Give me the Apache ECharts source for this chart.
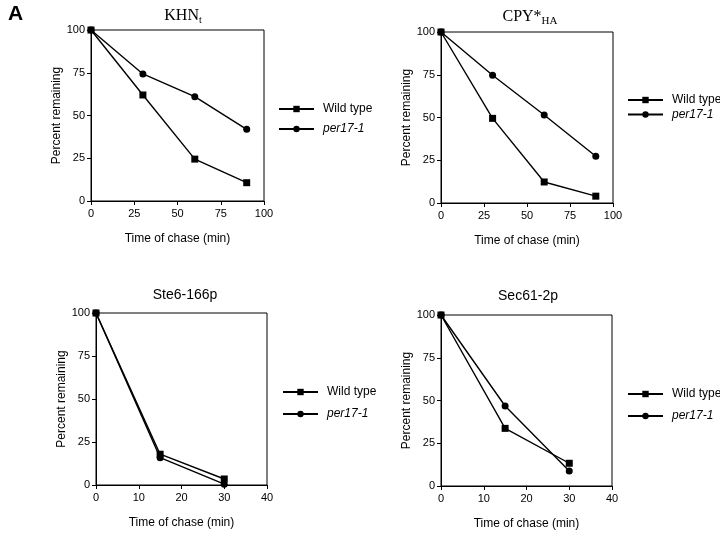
<!DOCTYPE html>
<html>
<head>
<meta charset="utf-8">
<script src="https://cdn.jsdelivr.net/npm/echarts@6/dist/echarts.min.js"></script>
<style>html,body{margin:0;padding:0;background:#fff;}#c{width:720px;height:534px;}</style>
</head>
<body>
<div id="c"></div>
<script>
// ---- data ----
const khnTime = [0, 30, 60, 90];
const khnWT = [100, 62, 24.5, 10.7];
const khnPer = [100, 74.3, 61, 41.9];
const cpyTime = [0, 30, 60, 90];
const cpyWT = [100, 49.5, 12.3, 4];
const cpyPer = [100, 74.7, 51.5, 27.3];
const steTime = [0, 15, 30];
const steWT = [100, 17.9, 3.5];
const stePer = [100, 15.9, 0.5];
const secTime = [0, 15, 30];
const secWT = [100, 33.7, 13.3];
const secPer = [100, 46.8, 8.8];
const seriesNames = ['Wild type', 'per17-1'];
const xTitle = 'Time of chase (min)';
const yTitle = 'Percent remaining';

const SANS = '"Liberation Sans", Arial, Helvetica, sans-serif';
const SERIF = '"Liberation Serif", "Times New Roman", serif';

const panels = [
  {grid: {left: 91, top: 30, width: 173, height: 171}, xMax: 100, xInt: 25, t: khnTime, wt: khnWT, per: khnPer,
   legend: {left: 278, top: 103, gap: 8}},
  {grid: {left: 441, top: 32, width: 172, height: 171}, xMax: 100, xInt: 25, t: cpyTime, wt: cpyWT, per: cpyPer,
   legend: {left: 627, top: 94, gap: 2.5}},
  {grid: {left: 96, top: 313, width: 171, height: 172}, xMax: 40, xInt: 10, t: steTime, wt: steWT, per: stePer,
   legend: {left: 282, top: 386, gap: 10}},
  {grid: {left: 441, top: 315, width: 171, height: 171}, xMax: 40, xInt: 10, t: secTime, wt: secWT, per: secPer,
   legend: {left: 627, top: 388, gap: 10}}
];

const grids = [], xAxes = [], yAxes = [], series = [], legends = [];
panels.forEach((p, i) => {
  grids.push(Object.assign({show: true, borderColor: '#000', borderWidth: 1, backgroundColor: 'transparent', containLabel: false}, p.grid));
  xAxes.push({
    type: 'value', gridIndex: i, min: 0, max: p.xMax, interval: p.xInt,
    name: xTitle, nameLocation: 'middle', nameGap: 32,
    nameTextStyle: {fontFamily: SANS, fontSize: 12, color: '#000'},
    axisLine: {show: true, onZero: false, lineStyle: {color: '#000', width: 1}},
    axisTick: {show: true, inside: false, length: 4, lineStyle: {color: '#000'}},
    axisLabel: {fontFamily: SANS, fontSize: 11, color: '#000', margin: 7},
    splitLine: {show: false}
  });
  yAxes.push({
    type: 'value', gridIndex: i, min: 0, max: 100, interval: 25,
    name: yTitle, nameLocation: 'middle', nameGap: 28, nameRotate: 90,
    nameTextStyle: {fontFamily: SANS, fontSize: 12, color: '#000'},
    axisLine: {show: true, onZero: false, lineStyle: {color: '#000', width: 1}},
    axisTick: {show: true, inside: false, length: 4, lineStyle: {color: '#000'}},
    axisLabel: {fontFamily: SANS, fontSize: 11, color: '#000', margin: 6},
    splitLine: {show: false}
  });
  series.push({
    name: seriesNames[0], type: 'line', xAxisIndex: i, yAxisIndex: i,
    data: p.t.map((x, k) => [x, p.wt[k]]), symbol: 'rect', symbolSize: 7,
    clip: false, lineStyle: {color: '#000', width: 1.4}, itemStyle: {color: '#000'}, animation: false
  });
  series.push({
    name: seriesNames[1], type: 'line', xAxisIndex: i, yAxisIndex: i,
    data: p.t.map((x, k) => [x, p.per[k]]), symbol: 'circle', symbolSize: 7,
    clip: false, lineStyle: {color: '#000', width: 1.4}, itemStyle: {color: '#000'}, animation: false
  });
  legends.push({
    orient: 'vertical', left: p.legend.left, top: p.legend.top, padding: 0,
    itemGap: p.legend.gap, itemWidth: 35, itemHeight: 8, selectedMode: false,
    data: seriesNames,
    formatter: n => n === 'per17-1' ? '{i|' + n + '}' : '{n|' + n + '}',
    textStyle: {fontFamily: SANS, fontSize: 12, color: '#000',
      rich: {i: {fontStyle: 'italic', fontFamily: SANS, fontSize: 12, color: '#000', padding: [0, 0, 0, 4]},
             n: {fontFamily: SANS, fontSize: 12, color: '#000', padding: [0, 0, 0, 4]}}}
  });
});

const titles = [
  {text: 'A', left: 3, top: -1, textStyle: {fontFamily: SANS, fontSize: 21, fontWeight: 'bold', color: '#000'}},
  {text: '{m|KHN}{s|t}', left: 178, top: 1, textAlign: 'center',
   textStyle: {fontWeight: 'normal', rich: {m: {fontFamily: SERIF, fontSize: 16, fontWeight: 'normal', color: '#000'}, s: {fontFamily: SERIF, fontSize: 10, fontWeight: 'normal', color: '#000', padding: [9, 0, 0, 0]}}}},
  {text: '{m|CPY*}{s|HA}', left: 525, top: 2, textAlign: 'center',
   textStyle: {fontWeight: 'normal', rich: {m: {fontFamily: SERIF, fontSize: 16, fontWeight: 'normal', color: '#000'}, s: {fontFamily: SERIF, fontSize: 11, fontWeight: 'normal', color: '#000', padding: [9, 0, 0, 0]}}}},
  {text: 'Ste6-166p', left: 180, top: 283, textAlign: 'center', textStyle: {fontFamily: SANS, fontSize: 14, fontWeight: 'normal', color: '#000'}},
  {text: 'Sec61-2p', left: 523, top: 284, textAlign: 'center', textStyle: {fontFamily: SANS, fontSize: 14, fontWeight: 'normal', color: '#000'}}
];

const chart = echarts.init(document.getElementById('c'), null, {renderer: 'canvas'});
chart.setOption({
  animation: false,
  backgroundColor: '#fff',
  title: titles,
  grid: grids, xAxis: xAxes, yAxis: yAxes, series: series, legend: legends
});
</script>
</body>
</html>
